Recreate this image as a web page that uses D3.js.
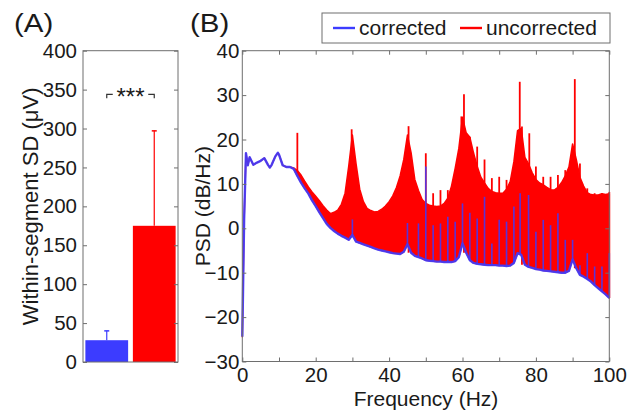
<!DOCTYPE html>
<html>
<head>
<meta charset="utf-8">
<script src="https://cdn.jsdelivr.net/npm/d3@7"></script>
<style>
  body { margin: 0; background: #fff; }
  svg { display: block; font-family: "Liberation Sans", Arial, sans-serif; }
  .frame { fill: none; stroke: #6e6e6e; stroke-width: 1; }
  .tick line { stroke: #6e6e6e; }
  .tick text { fill: #1a1a1a; font-size: 20.5px; }
</style>
</head>
<body>
<div id="chart"></div>
<script>
// Panel A: within-segment SD
const groups = ['corrected', 'uncorrected'];
const sdMean = [28, 175];
const sdErrTop = [40, 297];
const sdTicks = [0, 50, 100, 150, 200, 250, 300, 350, 400];

// Panel B: PSD curves
const freqHz = [0, 0.5, 1, 1.5, 2, 3, 4, 5, 6, 7, 7.5, 8, 9, 9.7, 10, 11, 12, 13, 14,
  15, 16, 17, 18, 19, 20, 21, 22, 23, 24, 25, 26, 27, 28, 29, 30, 31, 32, 33, 34,
  35, 36, 37, 38, 39, 40, 41, 42, 43, 44, 45, 46, 47, 48, 49, 50, 51, 52, 53, 54,
  55, 56, 57, 58, 59, 60, 61, 62, 63, 64, 65, 66, 67, 68, 69, 70, 71, 72, 73, 74,
  75, 76, 77, 78, 79, 80, 81, 82, 83, 84, 85, 86, 87, 88, 89, 90, 91, 92, 93, 94,
  95, 96, 97, 98, 99, 100];
const correctedDb = [-24.4, 2, 16.9, 14.2, 16.0, 14.3, 14.8, 15.2, 15.8, 14.3, 13.7, 14.3, 16.2, 17.0, 16.6, 14.2, 13.8, 13.8, 13.4,
  11.8, 10.3, 9.0, 7.8, 6.3, 5.0, 3.6, 2.3, 1.0, 0.1, -0.6, -1.2, -1.7, -2.1, -2.6, -1.5, -3.0, -3.3, -3.6, -3.9,
  -4.2, -4.5, -4.8, -5.0, -5.2, -5.4, -5.6, -5.7, -5.8, -5.3, -3.6, -5.5, -6.2, -6.5, -6.8, -7.2, -7.3, -7.4, -7.5, -7.5,
  -7.6, -7.6, -7.6, -7.4, -6.5, -3.4, -5.5, -7.2, -7.8, -8.0, -8.1, -8.2, -8.3, -8.3, -8.3, -8.4, -8.4, -8.5, -8.4, -7.8,
  -5.6, -6.0, -8.2, -8.7, -8.9, -9.2, -9.3, -9.5, -9.6, -9.7, -9.8, -9.9, -10.0, -10.0, -9.6, -7.0, -9.0, -10.5, -10.9, -11.4,
  -12.0, -12.8, -13.5, -14.2, -14.9, -15.7];
const uncorrectedDb = [-24.4, 2, 16.9, 14.2, 16.0, 14.3, 14.8, 15.2, 15.8, 14.3, 13.7, 14.3, 16.2, 17.0, 16.6, 14.2, 13.8, 13.8, 13.6,
  13.0, 12.0, 10.6, 9.3, 8.2, 7.2, 6.2, 5.1, 4.1, 3.3, 3.6, 4.1, 5.4, 7.9, 14.0, 21.0, 14.5, 8.8, 6.0, 4.5,
  4.0, 3.7, 3.8, 4.3, 5.0, 6.0, 7.3, 9.2, 11.8, 15.5, 21.0, 17.0, 11.0, 8.5, 6.5, 5.6, 5.2, 5.0, 4.9, 5.0,
  5.6, 6.8, 9.5, 13.5, 18.0, 25.0, 21.5, 20.5, 17.0, 14.0, 11.5, 10.2, 9.0, 8.3, 8.0, 7.9, 7.9, 8.8, 10.5, 15.0,
  22.0, 22.5, 16.0, 14.5, 12.5, 11.0, 10.2, 9.8, 9.2, 8.7, 8.6, 9.2, 10.3, 11.8, 13.8, 19.0, 15.5, 11.5, 9.5, 8.0,
  7.6, 7.5, 7.5, 7.8, 7.6, 7.8];

// narrow line peaks standing out of each curve: [Hz, dB]
const uncorrectedSpikes = [[15, 21.5], [29.8, 22.3], [45.3, 23.0], [50, 16.9], [52, 7.9], [54, 8.6],
  [56, 8.6], [58, 12.7], [59.7, 25.2], [60.4, 30.2], [62, 20.6], [64, 18.4], [66, 15.5], [68, 11.3],
  [70, 11.6], [72, 10.9], [74, 14.6], [75.6, 33.0], [76.2, 22.9], [78.2, 21.4], [80, 13.9], [82, 11.6],
  [84, 11.6], [86, 12.0], [88, 13.1], [90.6, 33.6], [92, 14.6], [94, 9.0], [96, 7.9], [98, 7.9], [100, 8.2]];
const correctedSpikes = [[30, 2.0], [45, 1.2], [48, 1.1], [50, 13.9], [52, 0.7], [54, 1.1], [56, 2.6],
  [58, 1.5], [60, 5.6], [62, 3.5], [64, 2.2], [66, 7.1], [68, -3.4], [70, 1.9], [72, 1.5], [74, 4.9],
  [75.7, 7.9], [78, 7.5], [80, -0.8], [82, 1.9], [84, 0.7], [86, 3.4], [88, -2.6], [90, -2.6],
  [92, -8.3], [94, -5.6], [96, -8.6], [98, -8.6], [100, -5.6]];
const freqTicks = [0, 10, 20, 30, 40, 50, 60, 70, 80, 90, 100];
const psdTicks = [-30, -20, -10, 0, 10, 20, 30, 40];

const BLUE = '#3c3cff';
const RED = '#ff0000';
const INK = '#1a1a1a';

const svg = d3.select('#chart').append('svg')
  .attr('width', 629)
  .attr('height', 416);

// ---------- panel A ----------
const ax = d3.scaleBand().domain(groups).range([83, 178]).paddingInner(0.1).paddingOuter(0.05);
const ay = d3.scaleLinear().domain([0, 400]).range([362, 50.7]);
const gA = svg.append('g');

gA.selectAll('rect.bar')
  .data(groups)
  .enter()
  .append('rect')
  .attr('class', 'bar')
  .attr('x', d => ax(d))
  .attr('width', ax.bandwidth())
  .attr('y', (d, i) => ay(sdMean[i]))
  .attr('height', (d, i) => ay(0) - ay(sdMean[i]))
  .attr('fill', (d, i) => i === 0 ? BLUE : RED);

// error bars (upper half only)
groups.forEach((d, i) => {
  const cx = ax(d) + ax.bandwidth() / 2;
  const col = i === 0 ? BLUE : RED;
  gA.append('line')
    .attr('x1', cx).attr('x2', cx)
    .attr('y1', ay(sdMean[i])).attr('y2', ay(sdErrTop[i]))
    .attr('stroke', col).attr('stroke-width', 1.2);
  gA.append('line')
    .attr('x1', cx - 2.5).attr('x2', cx + 2.5)
    .attr('y1', ay(sdErrTop[i])).attr('y2', ay(sdErrTop[i]))
    .attr('stroke', col).attr('stroke-width', 1.5);
});

gA.append('g')
  .attr('transform', 'translate(83,0)')
  .call(d3.axisLeft(ay).tickValues(sdTicks).tickSize(-4).tickPadding(6))
  .call(g => g.select('.domain').remove());
gA.append('g')
  .attr('transform', 'translate(178,0)')
  .call(d3.axisRight(ay).tickValues(sdTicks).tickSize(-4).tickFormat(''))
  .call(g => g.select('.domain').remove());
gA.append('rect').attr('class', 'frame')
  .attr('x', 83).attr('y', ay(400)).attr('width', 95).attr('height', ay(0) - ay(400));

// significance bracket
const c0 = ax(groups[0]) + ax.bandwidth() / 2;
const c1 = ax(groups[1]) + ax.bandwidth() / 2;
const by = ay(344);
const brk = d3.path();
brk.moveTo(c0, by + 4); brk.lineTo(c0, by); brk.lineTo(c0 + 6, by);
brk.moveTo(c1 - 6, by); brk.lineTo(c1, by); brk.lineTo(c1, by + 4);
gA.append('path').attr('d', brk.toString()).attr('fill', 'none').attr('stroke', '#333').attr('stroke-width', 1.2);
gA.append('text')
  .attr('x', (c0 + c1) / 2).attr('y', by + 11)
  .attr('text-anchor', 'middle')
  .attr('font-size', 24)
  .attr('fill', INK)
  .text('***');

gA.append('text')
  .attr('transform', `translate(38,${(ay(0) + ay(400)) / 2}) rotate(-90)`)
  .attr('text-anchor', 'middle')
  .attr('font-size', 22)
  .attr('fill', INK)
  .text('Within-segment SD (μV)');

svg.append('text').attr('transform', 'translate(14,32) scale(1.18,1)')
  .attr('font-size', 25).attr('fill', INK).text('(A)');
svg.append('text').attr('transform', 'translate(190,32) scale(1.18,1)')
  .attr('font-size', 25).attr('fill', INK).text('(B)');

// ---------- panel B ----------
const bx = d3.scaleLinear().domain([0, 100]).range([242.3, 609.3]);
const by2 = d3.scaleLinear().domain([-30, 40]).range([361.5, 50.7]);
const gB = svg.append('g');

const rows = freqHz.map((f, i) => ({ f, lo: correctedDb[i], hi: uncorrectedDb[i] }));

const band = d3.area()
  .x(d => bx(d.f))
  .y0(d => by2(d.lo))
  .y1(d => by2(d.hi));
gB.append('path')
  .datum(rows)
  .attr('d', band)
  .attr('fill', RED)
  .attr('stroke', RED)
  .attr('stroke-width', 1.5)
  .attr('stroke-linejoin', 'round');

gB.selectAll('line.uspike')
  .data(uncorrectedSpikes)
  .enter()
  .append('line')
  .attr('class', 'uspike')
  .attr('x1', d => bx(d[0])).attr('x2', d => bx(d[0]))
  .attr('y1', d => by2(correctedDb[d3.bisectLeft(freqHz, d[0])]))
  .attr('y2', d => by2(d[1]))
  .attr('stroke', RED).attr('stroke-width', 1.8);

gB.selectAll('line.cspike')
  .data(correctedSpikes)
  .enter()
  .append('line')
  .attr('class', 'cspike')
  .attr('x1', d => bx(d[0])).attr('x2', d => bx(d[0]))
  .attr('y1', d => by2(correctedDb[d3.bisectLeft(freqHz, d[0])]))
  .attr('y2', d => by2(d[1]))
  .attr('stroke', BLUE).attr('stroke-opacity', 0.85).attr('stroke-width', 1.6);

const line = d3.line()
  .x(d => bx(d.f))
  .y(d => by2(d.lo));
gB.append('path')
  .datum(rows)
  .attr('d', line)
  .attr('fill', 'none')
  .attr('stroke', BLUE)
  .attr('stroke-opacity', 0.9)
  .attr('stroke-width', 2.4)
  .attr('stroke-linejoin', 'round');

gB.append('g')
  .attr('transform', 'translate(0,361.5)')
  .call(d3.axisBottom(bx).tickValues(freqTicks).tickSize(-4).tickPadding(6)
    .tickFormat(d => d % 20 === 0 ? d : ''))
  .call(g => g.select('.domain').remove());
gB.append('g')
  .attr('transform', 'translate(0,50.7)')
  .call(d3.axisTop(bx).tickValues(freqTicks).tickSize(-4).tickFormat(''))
  .call(g => g.select('.domain').remove());
gB.append('g')
  .attr('transform', 'translate(242.3,0)')
  .call(d3.axisLeft(by2).tickValues(psdTicks).tickSize(-4).tickPadding(3))
  .call(g => g.select('.domain').remove());
gB.append('g')
  .attr('transform', 'translate(609.3,0)')
  .call(d3.axisRight(by2).tickValues(psdTicks).tickSize(-4).tickFormat(''))
  .call(g => g.select('.domain').remove());
gB.append('rect').attr('class', 'frame')
  .attr('x', 242.3).attr('y', 50.7).attr('width', 367).attr('height', 361.5 - 50.7);

gB.append('text')
  .attr('transform', `translate(210,${(361.5 + 50.7) / 2}) rotate(-90)`)
  .attr('text-anchor', 'middle')
  .attr('font-size', 21)
  .attr('fill', INK)
  .text('PSD (dB/Hz)');
gB.append('text')
  .attr('x', 426).attr('y', 406)
  .attr('text-anchor', 'middle')
  .attr('font-size', 21)
  .attr('fill', INK)
  .text('Frequency (Hz)');

// legend
const lg = svg.append('g');
lg.append('rect').attr('x', 322).attr('y', 13).attr('width', 288).attr('height', 30)
  .attr('fill', '#fff').attr('stroke', '#6e6e6e');
const legendItems = [
  { label: 'corrected', color: BLUE, x: 333 },
  { label: 'uncorrected', color: RED, x: 460 }
];
legendItems.forEach(it => {
  lg.append('line').attr('x1', it.x).attr('x2', it.x + 22).attr('y1', 28).attr('y2', 28)
    .attr('stroke', it.color).attr('stroke-width', 2.4);
  lg.append('text').attr('x', it.x + 26).attr('y', 35).attr('font-size', 21)
    .attr('fill', INK).text(it.label);
});
</script>
</body>
</html>
